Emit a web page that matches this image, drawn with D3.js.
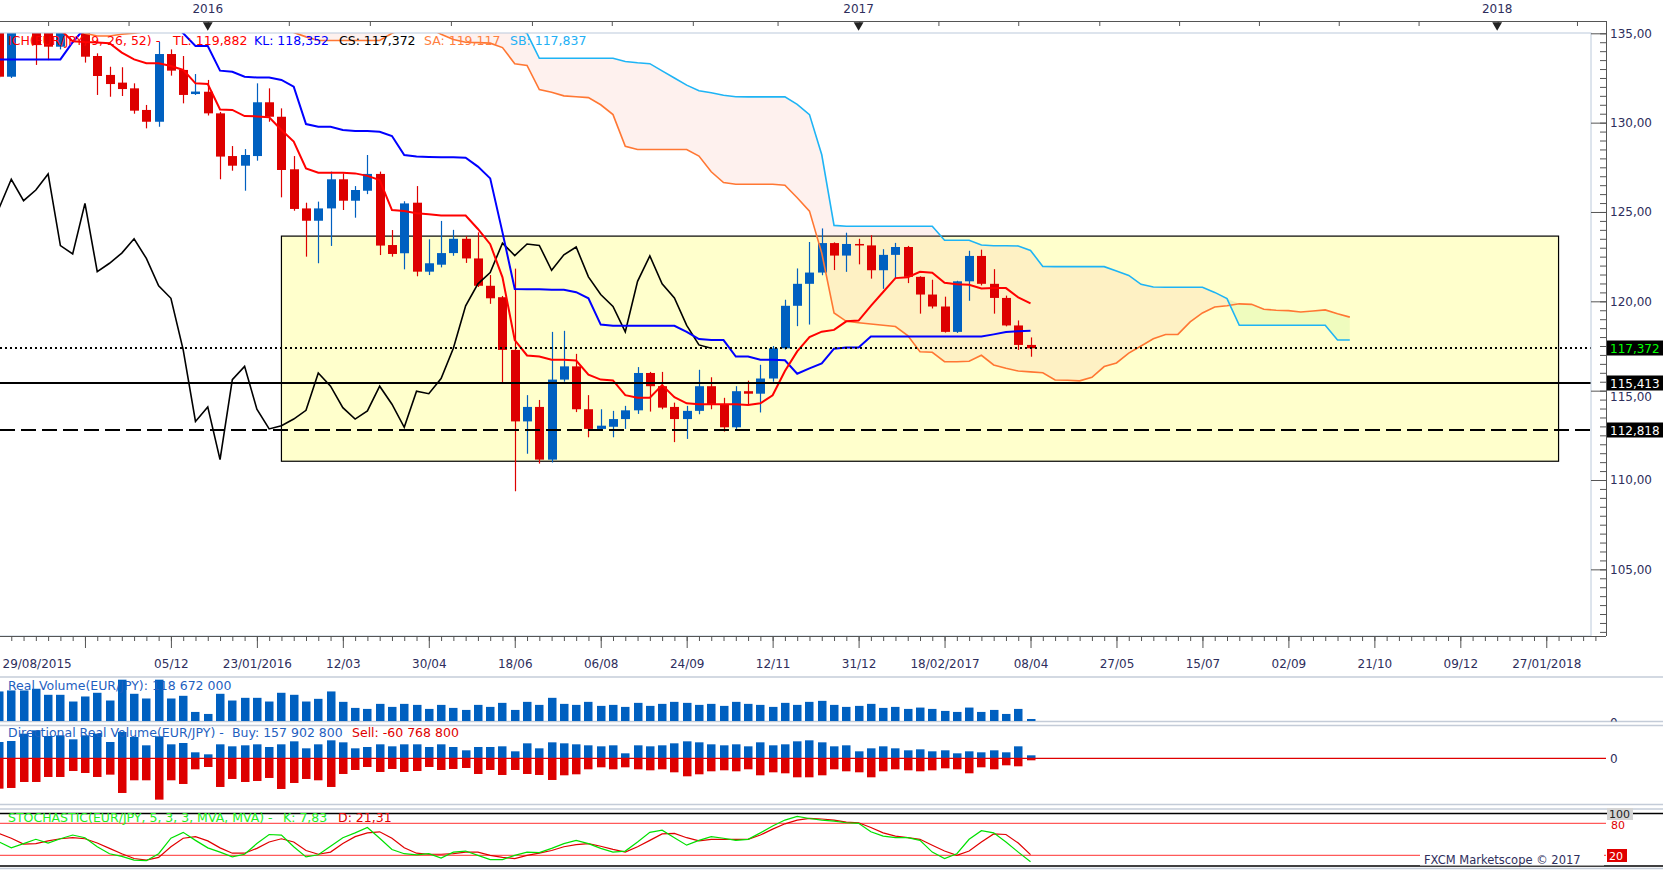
<!DOCTYPE html>
<html lang="en">
<head>
<meta charset="UTF-8">
<title>EUR/JPY Weekly - Ichimoku</title>
<script src="https://d3js.org/d3.v7.min.js"></script>
<style>
  body { margin: 0; background: #fff; }
  svg { display: block; font-family: "DejaVu Sans", Verdana, sans-serif; }
</style>
</head>
<body>
<div id="chart"></div>
<script>
// weekly bars, bar 0 = 29/08/2015, last bar (84) = 08/04/2017
const open = [135.7,132.57,135.5,135.4,135.2,134.25,135.3,135.5,133.73,132.67,132.24,131.92,130.71,130.05,133.84,132.95,131.6,131.73,130.52,128.13,127.59,128.13,131.14,130.33,127.39,125.2,124.51,125.2,126.83,125.63,126.19,127.13,123.15,122.69,125.52,121.66,122.05,122.7,123.5,122.4,120.87,120.23,117.28,113.28,114.09,111.14,115.62,116.36,113.96,112.86,112.98,113.41,113.9,115.99,115.25,114.09,113.41,113.87,115.25,114.24,112.95,114.97,114.83,115.68,117.37,119.75,120.98,121.61,123.26,122.56,123.21,123.13,121.74,122.6,123.04,121.37,120.38,119.71,118.29,121.12,122.54,120.98,120.19,118.65,117.56];
const high = [136.2,136.0,136.6,135.9,135.6,135.8,136.2,135.9,133.88,133.13,133.10,132.2,130.99,134.53,134.1,133.73,132.72,132.39,130.6,128.69,128.52,132.2,131.92,130.8,128.13,125.52,125.58,127.26,127.16,126.45,128.19,127.26,123.99,125.6,126.45,123.47,124.5,124.0,123.65,123.86,121.47,120.3,121.83,114.75,114.48,118.29,118.35,117.06,114.75,113.96,113.87,114.15,116.32,116.05,116.05,114.33,114.15,116.17,115.75,114.6,115.25,115.56,116.45,117.5,120.09,121.84,123.32,124.08,123.3,123.84,123.5,123.7,122.92,123.27,123.1,121.4,121.21,120.26,121.15,122.83,122.89,121.8,120.32,118.93,117.98];
const low = [132.5,132.5,135.2,133.23,133.5,134.1,135.1,133.36,131.55,131.45,131.49,130.5,129.68,129.77,132.63,131.08,131.55,130.4,126.83,127.31,126.19,127.87,130.05,125.82,125.07,122.5,122.13,123.1,125.11,124.68,126.0,122.59,122.5,121.79,121.4,121.47,121.9,122.55,122.15,120.8,119.86,115.44,109.37,111.47,110.92,110.98,115.5,113.8,112.39,112.76,112.39,112.86,113.7,113.83,113.96,112.12,112.3,113.68,113.96,112.71,112.86,114.2,113.78,115.5,117.3,118.61,118.7,121.46,121.75,121.65,122.07,121.27,120.7,121.27,121.02,119.31,119.6,118.25,118.23,120.03,120.89,119.31,118.6,117.28,116.9];
const close = [132.57,135.5,135.4,134.34,134.25,135.3,135.5,133.69,132.61,132.16,131.88,130.67,130.05,133.84,132.91,131.55,131.74,130.52,128.10,127.59,128.19,131.14,130.33,127.35,125.17,124.51,125.2,126.83,125.63,126.23,127.13,123.12,122.65,125.48,121.66,122.13,122.7,123.5,122.4,120.87,120.17,117.28,113.28,114.09,111.14,115.62,116.36,113.96,112.86,113.04,113.41,113.9,115.99,115.25,114.05,113.41,113.87,115.25,114.24,112.95,114.97,114.83,115.68,117.37,119.75,120.98,121.61,123.26,122.56,123.21,123.13,121.74,122.6,123.04,121.37,120.38,119.71,118.29,121.12,122.54,120.98,120.19,118.65,117.56,117.372];

// Ichimoku lines
const tenkan = [135.6,135.6,135.6,135.6,135.6,135.2,134.55,134.51,134.49,134.44,133.92,133.54,133.32,133.32,133.17,132.95,132.2,132.16,130.74,130.71,130.37,130.35,130.3,129.59,128.94,127.44,127.2,127.2,127.2,127.16,127.02,126.79,125.11,125.06,124.93,124.87,124.8,124.8,124.8,124.05,123.2,121.34,117.83,116.97,116.91,116.73,116.73,116.69,115.9,115.62,115.57,114.75,114.61,114.61,115.31,114.64,114.29,114.24,114.24,114.24,114.24,114.2,114.29,114.74,116.1,117.2,118.0,118.3,118.4,118.88,118.92,119.75,120.52,121.3,121.35,121.65,121.6,121.04,120.95,120.93,120.72,120.74,120.74,120.22,119.882];
const kijun = [133.54,133.54,133.54,133.54,133.54,133.54,134.5,135.3,135.6,135.6,135.6,135.6,135.6,135.6,135.6,135.0,134.29,134.29,132.91,132.85,132.57,132.53,132.52,132.39,132.01,129.92,129.77,129.77,129.59,129.53,129.53,129.49,129.25,128.19,128.1,128.08,128.06,128.06,128.04,127.54,126.88,123.86,120.69,120.67,120.67,120.65,120.65,120.51,120.17,118.7,118.63,118.63,118.63,118.63,118.63,118.63,118.29,117.89,117.83,117.83,116.91,116.91,116.73,116.73,116.7,115.95,116.25,116.53,117.35,117.42,117.42,118.03,118.03,118.03,118.03,118.03,118.03,118.03,118.03,118.03,118.03,118.15,118.28,118.33,118.352];
const senkouA = [135.5,135.5,135.5,135.5,135.5,135.5,135.5,135.0,134.85,134.85,134.95,135.0,135.1,135.4,135.4,135.4,135.4,135.4,135.4,135.4,135.4,135.4,135.4,135.4,135.05,134.8,134.6,134.6,134.6,134.6,134.6,134.6,135.0,135.3,135.3,135.3,134.95,134.65,134.5,134.48,134.45,134.2,133.3,133.2,131.85,131.7,131.5,131.45,131.4,131.0,130.45,128.68,128.5,128.5,128.5,128.5,128.5,128.13,127.25,126.65,126.55,126.55,126.55,126.55,126.5,125.8,125.05,122.7,119.35,118.88,118.8,118.73,118.66,118.59,118.08,117.18,117.15,116.62,116.62,116.65,116.98,116.44,116.25,116.1,116.05,116.0,115.6,115.58,115.55,115.75,116.35,116.55,117.1,117.5,117.9,118.14,118.15,118.85,119.35,119.68,119.75,119.86,119.83,119.56,119.5,119.48,119.4,119.46,119.52,119.3,119.117];
const senkouB = [136,136,136,136,136,136,136,136,136,136,136,136,136,136,136,136,136,136,136,136,136,136,136,136,136,136,136,136,136,136,136,136,136,136,136,136,136,136,136,136,136,136,135.3,135.0,133.6,133.6,133.6,133.6,133.6,133.6,133.6,133.42,133.35,133.3,132.9,132.5,132.1,131.78,131.67,131.53,131.45,131.44,131.44,131.44,131.44,131.02,130.45,128.2,124.25,124.2,124.2,124.2,124.2,124.2,124.2,124.2,124.2,123.42,123.42,123.42,123.15,123.11,123.11,123.1,122.85,121.95,121.94,121.94,121.94,121.94,121.94,121.7,121.45,120.95,120.8,120.79,120.79,120.79,120.79,120.5,120.15,118.66,118.66,118.66,118.66,118.66,118.66,118.66,118.66,117.84,117.837];

// indicator panels
const volume = [88,91,91,96,78,78,58,73,84,61,123,81,67,123,67,75,27,21,81,61,69,69,58,84,78,58,66,88,57,39,36,51,42,51,48,36,48,39,33,48,42,54,33,57,48,69,51,48,57,45,48,42,54,45,51,57,54,48,51,45,57,51,48,42,54,48,57,60,48,42,45,51,39,42,36,40,36,30,27,40,27,33,21,36,6];
const buyVolume = [49,52,74,84,67,69,57,69,74,49,79,64,39,66,42,46,18,12,42,36,39,42,34,42,51,30,42,54,48,30,34,42,36,42,42,34,42,34,24,34,34,36,21,45,30,48,45,42,39,36,39,15,39,36,39,45,51,48,42,39,42,36,48,39,42,51,54,48,36,39,21,30,36,30,24,27,21,24,15,21,18,24,18,36,9];
const sellVolume = [91,89,71,71,56,56,38,44,56,49,104,66,66,124,66,77,33,26,86,62,71,68,59,92,74,62,66,86,47,35,26,41,32,41,38,26,35,32,29,47,35,50,35,47,50,65,51,48,33,27,33,27,33,36,33,42,54,48,39,36,39,33,51,42,45,57,57,51,33,39,42,57,39,33,36,39,36,30,33,45,27,33,21,24,6];
const stochK = [45,34,42,50,43,51,58,53,36,23,18,11,10,23,52,63,48,34,26,17,22,42,59,58,36,17,21,37,53,62,72,52,31,23,21,23,15,26,28,20,12,12,20,26,25,33,42,48,42,33,26,28,45,63,67,53,39,48,55,52,48,50,62,75,86,93,89,86,84,81,80,64,56,53,53,48,26,14,23,50,66,62,45,26,7.83];
const stochD = [61,52,41,42,47,51,53,51,43,33,23,14,11,16,36,52,55,47,34,24,24,33,45,51,45,29,22,26,42,55,62,64,52,34,24,22,22,23,26,26,20,16,14,20,24,29,36,40,42,37,31,26,36,48,60,61,53,47,50,50,50,50,58,69,79,86,89,88,86,82,81,72,62,56,53,50,39,28,20,28,45,60,59,43,21.31];

// axes / annotations
const dateLabels = ["29/08/2015","","05/12","23/01/2016","12/03","30/04","18/06","06/08","24/09","12/11","31/12","18/02/2017","08/04","27/05","15/07","02/09","21/10","09/12","27/01/2018"];
const topTickBars = [4.0,10.55,17.0,23.6,30.2,36.8,43.4,49.9,56.5,63.4,70.06,76.5,83.0,89.6,96.1,102.6,109.1,115.6,122.04,128.5];
const yearLabels = ["2016","2017","2018"];
const yearBars = [17,70,122];
const priceTicks = [105,110,115,120,125,130,135];
const levelValues = [117.372,115.413,112.818];
const boxBars = [23,127];
const boxPrices = [111.05,123.65];

const width = 1663, height = 870;
const BLUE = "#0060c0", RED = "#dd0000", TXT = "#2e2e5c", GRID = "#c4ccd8";
const LEG = 12.5;
const loc = d3.formatLocale({decimal: ",", thousands: " ", grouping: [3], currency: ["", ""]});
const fmt2 = loc.format(".2f"), fmt3 = loc.format(".3f");

const svg = d3.select("#chart").append("svg")
    .attr("width", width)
    .attr("height", height);

const plotR = 1591, axisR = 1606;
const x = d3.scaleLinear().domain([0, 100]).range([-1, 1227]);
const y = d3.scaleLinear().domain([101.27, 135]).range([636, 33.3]);
const yVol = d3.scaleLinear().domain([0, 131]).range([721, 677]);
const yDir = d3.scaleLinear().domain([-138, 97]).range([804.3, 726]);
const ySto = d3.scaleLinear().domain([0, 100]).range([866, 812.6]);
const px = i => Math.round(x(i));

const defs = svg.append("defs");
[["clip-main", 0, 33, plotR, 603], ["clip-vol", 0, 677, plotR, 44.5], ["clip-vol0", axisR, 677, 57, 44.5],
 ["clip-dir", 0, 726, plotR, 78], ["clip-sto", 0, 813, axisR, 53]].forEach(c => {
    defs.append("clipPath").attr("id", c[0]).append("rect")
        .attr("x", c[1]).attr("y", c[2]).attr("width", c[3]).attr("height", c[4]);
});

// ---------- main price panel ----------
const main = svg.append("g").attr("clip-path", "url(#clip-main)");

main.append("rect")
    .attr("x", x(boxBars[0])).attr("y", y(boxPrices[1]))
    .attr("width", x(boxBars[1]) - x(boxBars[0]))
    .attr("height", y(boxPrices[0]) - y(boxPrices[1]))
    .attr("fill", "#ffffcc").attr("stroke", "#000").attr("stroke-width", 1.2);

const cloudIdx = d3.range(senkouA.length);
main.append("path").datum(cloudIdx)
    .attr("d", d3.area().x(i => x(i)).y0(i => y(senkouA[i])).y1(i => y(Math.max(senkouA[i], senkouB[i]))))
    .attr("fill", "rgba(250,180,160,0.18)");
main.append("path").datum(cloudIdx)
    .attr("d", d3.area().x(i => x(i)).y0(i => y(senkouB[i])).y1(i => y(Math.max(senkouA[i], senkouB[i]))))
    .attr("fill", "rgba(180,240,140,0.22)");

// candles
const bars = main.append("g").selectAll("g").data(d3.range(open.length)).join("g");
bars.append("line")
    .attr("x1", i => px(i) + 0.5).attr("x2", i => px(i) + 0.5)
    .attr("y1", i => y(high[i])).attr("y2", i => y(low[i]))
    .attr("stroke", i => close[i] >= open[i] ? BLUE : RED).attr("stroke-width", 1.2);
bars.append("rect")
    .attr("x", i => px(i) - 4).attr("width", 9)
    .attr("y", i => y(Math.max(open[i], close[i])))
    .attr("height", i => Math.max(1.5, Math.abs(y(open[i]) - y(close[i]))))
    .attr("fill", i => close[i] >= open[i] ? BLUE : RED);

// ichimoku lines
const line = arr => d3.line().x(i => x(i)).y(i => y(arr[i]));
main.append("path").datum(cloudIdx).attr("d", line(senkouA))
    .attr("fill", "none").attr("stroke", "#ff7733").attr("stroke-width", 1.6);
main.append("path").datum(cloudIdx).attr("d", line(senkouB))
    .attr("fill", "none").attr("stroke", "#1eb4f5").attr("stroke-width", 1.6);
main.append("path").datum(d3.range(26, close.length))
    .attr("d", d3.line().x(i => x(i - 26)).y(i => y(close[i])))
    .attr("fill", "none").attr("stroke", "#000").attr("stroke-width", 1.6);
main.append("path").datum(d3.range(kijun.length)).attr("d", line(kijun))
    .attr("fill", "none").attr("stroke", "#0000ff").attr("stroke-width", 2);
main.append("path").datum(d3.range(tenkan.length)).attr("d", line(tenkan))
    .attr("fill", "none").attr("stroke", "#ff0000").attr("stroke-width", 2);

// horizontal levels
const levelDash = ["2,3", null, "15,6"];
levelValues.forEach((v, k) => {
    main.append("line")
        .attr("x1", 0).attr("x2", plotR)
        .attr("y1", Math.round(y(v))).attr("y2", Math.round(y(v)))
        .attr("stroke", "#000").attr("stroke-width", 2)
        .attr("stroke-dasharray", levelDash[k]);
});

// plot frame
svg.append("rect").attr("x", -1).attr("y", 33).attr("width", plotR + 1).attr("height", 603)
    .attr("fill", "none").attr("stroke", "#bccadb").attr("stroke-width", 1);

// legend
const legend = svg.append("g").attr("font-size", LEG);
[["ICH(EUR/JPY, 9, 26, 52) -", 8, "#ff0000"], ["TL: 119,882", 173, "#ff0000"],
 ["KL: 118,352", 254, "#0000ff"], ["CS: 117,372", 339, "#000"],
 ["SA: 119,117", 424, "#ff7f3f"], ["SB: 117,837", 510, "#22b0f5"]].forEach(p => {
    legend.append("text").attr("x", p[1]).attr("y", 45).attr("fill", p[2]).text(p[0]);
});

// ---------- price axis ----------
const styleAxis = g => {
    g.attr("font-family", "DejaVu Sans, Verdana, sans-serif").attr("font-size", 12);
    g.select(".domain").remove();
    g.selectAll("line").attr("stroke", "#555");
    g.selectAll("text").attr("fill", TXT);
};
svg.append("g").attr("transform", `translate(${plotR},0)`)
    .call(d3.axisRight(y).tickValues(priceTicks).tickSize(15).tickPadding(4).tickFormat(fmt2))
    .call(styleAxis)
    .call(g => g.selectAll(".tick text").filter(d => d === 115).attr("dy", "0.85em"));
svg.append("g").attr("transform", `translate(${axisR - 6},0)`)
    .call(d3.axisRight(y).tickValues(d3.range(101.5, 135.01, 0.5)).tickSize(6).tickFormat(""))
    .call(styleAxis);
svg.append("line").attr("x1", axisR + 0.5).attr("x2", axisR + 0.5).attr("y1", 21).attr("y2", 636)
    .attr("stroke", "#555");

const levelColor = ["#00ff00", "#fff", "#fff"];
levelValues.forEach((v, k) => {
    const yy = Math.round(y(v));
    svg.append("rect").attr("x", axisR + 1).attr("y", yy - 7.5).attr("width", width - axisR).attr("height", 15)
        .attr("fill", "#000");
    svg.append("text").attr("x", axisR + 4).attr("y", yy + 4.5).attr("font-size", 12)
        .attr("fill", levelColor[k]).text(fmt3(v));
});

// ---------- top date strip ----------
svg.append("line").attr("x1", 0).attr("x2", axisR).attr("y1", 21.5).attr("y2", 21.5).attr("stroke", "#555");
svg.append("g").attr("transform", "translate(0,21)")
    .call(d3.axisBottom(x).tickValues(topTickBars).tickSize(5).tickFormat(""))
    .call(styleAxis);
const yearG = svg.append("g");
yearG.selectAll("path").data(yearBars).join("path")
    .attr("d", d3.symbol().type(d3.symbolTriangle).size(42))
    .attr("transform", b => `translate(${x(b)},25) rotate(180)`)
    .attr("fill", "#222");
yearG.selectAll("text").data(yearBars).join("text")
    .attr("x", b => x(b)).attr("y", 13).attr("text-anchor", "middle")
    .attr("font-size", 12).attr("fill", TXT)
    .text((b, i) => yearLabels[i]);

// ---------- bottom date axis ----------
svg.append("line").attr("x1", 0).attr("x2", axisR).attr("y1", 636.5).attr("y2", 636.5).attr("stroke", "#555");
svg.append("g").attr("transform", "translate(0,636)")
    .call(d3.axisBottom(x).tickValues(d3.range(0, 131)).tickSize(5).tickFormat(""))
    .call(styleAxis);
const xAxisG = svg.append("g").attr("transform", "translate(0,636)")
    .call(d3.axisBottom(x).tickValues(dateLabels.map((d, i) => i * 7)).tickSize(12).tickPadding(11)
        .tickFormat((d, i) => dateLabels[i]))
    .call(styleAxis);
xAxisG.select(".tick text").attr("text-anchor", "start").attr("x", 3);

// ---------- panel separators ----------
[[677, GRID], [721.5, GRID], [725.5, GRID], [804.5, GRID], [809, GRID], [868.5, GRID]].forEach(l => {
    svg.append("line").attr("x1", 0).attr("x2", width).attr("y1", l[0]).attr("y2", l[0])
        .attr("stroke", l[1]).attr("stroke-width", 1.5);
});
[813.5, 866].forEach(v => {
    svg.append("line").attr("x1", 0).attr("x2", width).attr("y1", v).attr("y2", v)
        .attr("stroke", "#000").attr("stroke-width", 1.5);
});

// ---------- real volume ----------
const vol = svg.append("g").attr("clip-path", "url(#clip-vol)");
vol.selectAll("rect").data(d3.range(volume.length)).join("rect")
    .attr("x", i => px(i) - 4).attr("width", 8.5)
    .attr("y", i => yVol(volume[i])).attr("height", i => yVol(0) - yVol(volume[i]))
    .attr("fill", BLUE);
svg.append("text").attr("x", 8).attr("y", 690).attr("font-size", LEG).attr("fill", "#1f5fbf")
    .text("Real Volume(EUR/JPY): 118 672 000");
svg.append("g").attr("clip-path", "url(#clip-vol0)")
    .append("text").attr("x", 1610).attr("y", 727).attr("font-size", 12).attr("fill", TXT).text("0");

// ---------- directional volume ----------
const dir = svg.append("g").attr("clip-path", "url(#clip-dir)");
dir.selectAll("rect.buy").data(d3.range(buyVolume.length)).join("rect").attr("class", "buy")
    .attr("x", i => px(i) - 4).attr("width", 8.5)
    .attr("y", i => yDir(buyVolume[i])).attr("height", i => yDir(0) - yDir(buyVolume[i]))
    .attr("fill", BLUE);
dir.selectAll("rect.sell").data(d3.range(sellVolume.length)).join("rect").attr("class", "sell")
    .attr("x", i => px(i) - 4).attr("width", 8.5)
    .attr("y", yDir(0)).attr("height", i => yDir(-sellVolume[i]) - yDir(0))
    .attr("fill", RED);
svg.append("line").attr("x1", 0).attr("x2", axisR).attr("y1", yDir(0)).attr("y2", yDir(0))
    .attr("stroke", "#e00000").attr("stroke-width", 1.2);
svg.append("text").attr("x", 8).attr("y", 737).attr("font-size", LEG).attr("fill", "#1f5fbf")
    .text("Directional Real Volume(EUR/JPY) -");
svg.append("text").attr("x", 232).attr("y", 737).attr("font-size", LEG).attr("fill", "#1f5fbf")
    .text("Buy: 157 902 800");
svg.append("text").attr("x", 352).attr("y", 737).attr("font-size", LEG).attr("fill", "#e00000")
    .text("Sell: -60 768 800");
svg.append("text").attr("x", 1610).attr("y", yDir(0) + 4.5).attr("font-size", 12).attr("fill", TXT).text("0");

// ---------- stochastic ----------
const sto = svg.append("g").attr("clip-path", "url(#clip-sto)");
[80, 20].forEach(v => {
    sto.append("line").attr("x1", 0).attr("x2", axisR).attr("y1", ySto(v)).attr("y2", ySto(v))
        .attr("stroke", "#ff5a5a").attr("stroke-width", 1.2);
});
const stoIdx = d3.range(stochK.length);
sto.append("path").datum(stoIdx)
    .attr("d", d3.line().x(i => x(i)).y(i => ySto(stochD[i])))
    .attr("fill", "none").attr("stroke", "#e00000").attr("stroke-width", 1.2);
sto.append("path").datum(stoIdx)
    .attr("d", d3.line().x(i => x(i)).y(i => ySto(stochK[i])))
    .attr("fill", "none").attr("stroke", "#00e000").attr("stroke-width", 1.2);
svg.append("text").attr("x", 8).attr("y", 822).attr("font-size", LEG).attr("fill", "#22ee22")
    .text("STOCHASTIC(EUR/JPY, 5, 3, 3, MVA, MVA) -");
svg.append("text").attr("x", 283).attr("y", 822).attr("font-size", LEG).attr("fill", "#22ee22")
    .text("K: 7,83");
svg.append("text").attr("x", 338).attr("y", 822).attr("font-size", LEG).attr("fill", "#e00000")
    .text("D: 21,31");

svg.append("rect").attr("x", 1420).attr("y", 853).attr("width", 184).attr("height", 12.5).attr("fill", "#fff");
svg.append("text").attr("x", 1424).attr("y", 864).attr("font-size", 11.5).attr("fill", TXT)
    .text("FXCM Marketscope © 2017");

svg.append("rect").attr("x", 1607).attr("y", 808).attr("width", 26).attr("height", 12).attr("fill", "#d4d4d4");
svg.append("text").attr("x", 1609).attr("y", 818).attr("font-size", 11).attr("fill", "#222").text("100");
svg.append("text").attr("x", 1611).attr("y", 829).attr("font-size", 11).attr("fill", "#e00000").text("80");
svg.append("rect").attr("x", 1607).attr("y", 849).attr("width", 20).attr("height", 13).attr("fill", "#e00000");
svg.append("text").attr("x", 1609).attr("y", 859.5).attr("font-size", 11).attr("fill", "#fff").text("20");
</script>
</body>
</html>
